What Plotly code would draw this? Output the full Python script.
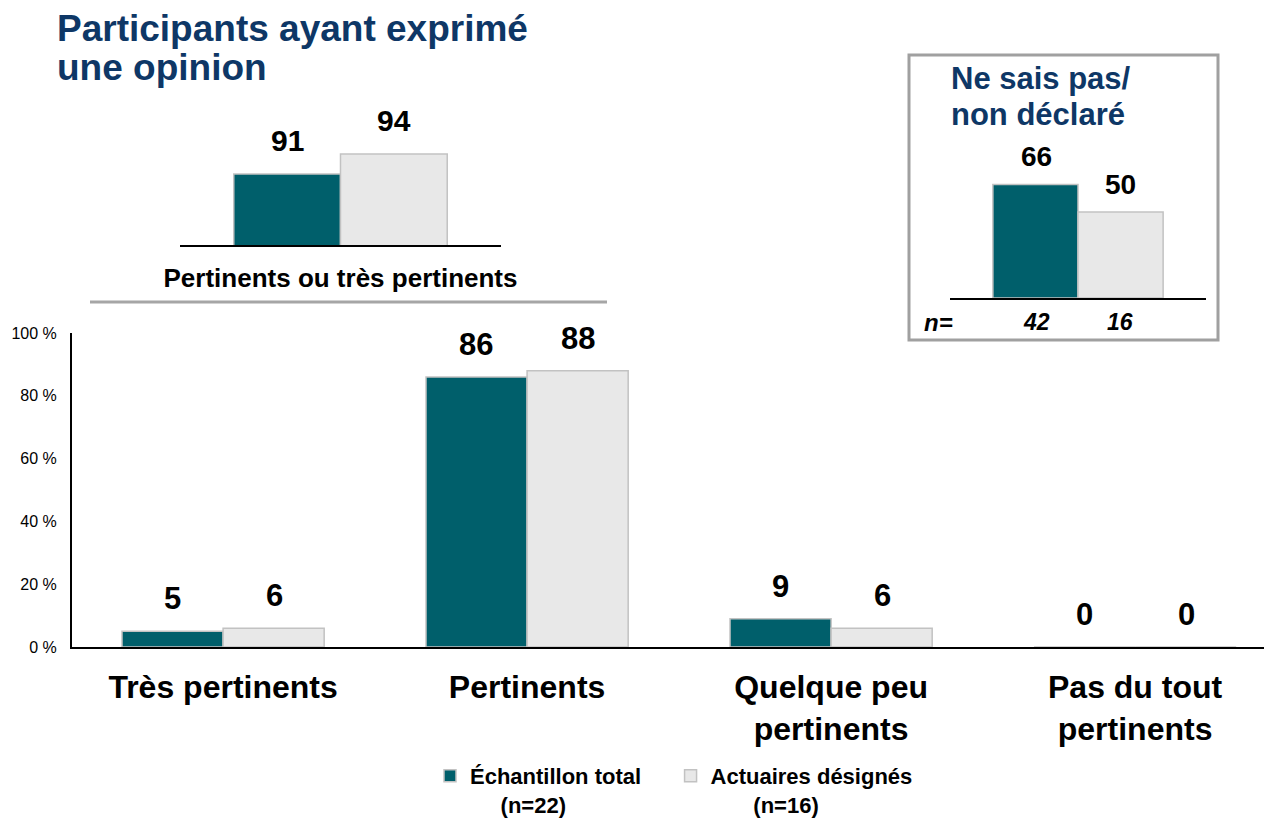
import plotly.graph_objects as go

# main chart data
categories = ["Très pertinents", "Pertinents", "Quelque peu<br>pertinents", "Pas du tout<br>pertinents"]
total_vals = [5, 86, 9, 0]
actuaires_vals = [6, 88, 6, 0]
y_ticks = [0, 20, 40, 60, 80, 100]

# inset: pertinents ou très pertinents
top_cat = ["Pertinents ou très pertinents"]
top_total = [91]
top_actuaires = [94]

# inset: ne sais pas / non déclaré
nsp_cat = ["nsp"]
nsp_total = [66]
nsp_actuaires = [50]
nsp_n = [42, 16]

NB = "\u00a0"
series_names = ["Échantillon total" + NB * 4 + "<br>" + NB * 5 + "(n=22)",
                "Actuaires désignés<br>" + NB * 7 + "(n=16)"]

TEAL = "#005F6B"
GRAY = "#E8E8E8"
EDGE = "#C2C2C2"
NAVY = "#0E3766"
FONT = "Arial, Liberation Sans, sans-serif"

# page is 1272x819, body has an 8px margin
W, H = 1256, 819
OFF = 8


def px_x(x):
    return (x - OFF) / W


def px_y(y):
    return 1 - (y - OFF) / H


fig = go.Figure()

# main bars
fig.add_trace(go.Bar(x=categories, y=total_vals, name=series_names[0],
                     marker=dict(color=TEAL, line=dict(color=EDGE, width=1.5)),
                     xaxis="x", yaxis="y"))
fig.add_trace(go.Bar(x=categories, y=actuaires_vals, name=series_names[1],
                     marker=dict(color=GRAY, line=dict(color=EDGE, width=1.5)),
                     xaxis="x", yaxis="y"))

# top-left inset
fig.add_trace(go.Bar(x=top_cat, y=top_total, showlegend=False,
                     marker=dict(color=TEAL, line=dict(color=EDGE, width=1.5)),
                     xaxis="x2", yaxis="y2"))
fig.add_trace(go.Bar(x=top_cat, y=top_actuaires, showlegend=False,
                     marker=dict(color=GRAY, line=dict(color=EDGE, width=1.5)),
                     xaxis="x2", yaxis="y2"))

# top-right inset
fig.add_trace(go.Bar(x=nsp_cat, y=nsp_total, showlegend=False,
                     marker=dict(color=TEAL, line=dict(color=EDGE, width=1.5)),
                     xaxis="x3", yaxis="y3"))
fig.add_trace(go.Bar(x=nsp_cat, y=nsp_actuaires, showlegend=False,
                     marker=dict(color=GRAY, line=dict(color=EDGE, width=1.5)),
                     xaxis="x3", yaxis="y3"))

annotations = []

# value labels main chart
for cat, a, b in zip(categories, total_vals, actuaires_vals):
    for v, shift in ((a, -51), (b, 51)):
        annotations.append(dict(x=cat, y=v, xref="x", yref="y", text=f"<b>{v}</b>",
                                showarrow=False, xshift=shift, yanchor="bottom", yshift=13,
                                font=dict(size=31, color="black", family=FONT)))

# value labels top-left inset
for cat, a, b in zip(top_cat, top_total, top_actuaires):
    for v, shift in ((a, -53), (b, 53)):
        annotations.append(dict(x=cat, y=v, xref="x2", yref="y2", text=f"<b>{v}</b>",
                                showarrow=False, xshift=shift, yanchor="bottom", yshift=15,
                                font=dict(size=30, color="black", family=FONT)))

# value labels top-right inset
for cat, a, b in zip(nsp_cat, nsp_total, nsp_actuaires):
    for v, shift in ((a, -42), (b, 42)):
        annotations.append(dict(x=cat, y=v, xref="x3", yref="y3", text=f"<b>{v}</b>",
                                showarrow=False, xshift=shift, yanchor="bottom", yshift=10,
                                font=dict(size=28, color="black", family=FONT)))
    for n, shift in zip(nsp_n, (-42, 42)):
        annotations.append(dict(x=cat, y=0, xref="x3", yref="y3", text=f"<b><i>{n}</i></b>",
                                showarrow=False, xshift=shift, yanchor="middle", yshift=-24,
                                font=dict(size=23, color="black", family=FONT)))

annotations.append(dict(x=px_x(922), y=px_y(322), xref="paper", yref="paper",
                        text="<b><i>n=</i></b>", showarrow=False, xanchor="left", yanchor="middle",
                        font=dict(size=24, color="black", family=FONT)))

for line, yc in (("Ne sais pas/", 78), ("non déclaré", 115)):
    annotations.append(dict(x=px_x(949), y=px_y(yc), xref="paper", yref="paper",
                            text=f"<b>{line}</b>", showarrow=False,
                            xanchor="left", yanchor="middle",
                            font=dict(size=31, color=NAVY, family=FONT)))

for line, yc in (("Participants ayant exprimé", 28), ("une opinion", 68)):
    annotations.append(dict(x=px_x(55), y=px_y(yc), xref="paper", yref="paper",
                            text=f"<b>{line}</b>", showarrow=False,
                            xanchor="left", yanchor="middle",
                            font=dict(size=37, color=NAVY, family=FONT)))

shapes = [
    dict(type="line", xref="paper", yref="paper", x0=px_x(90), x1=px_x(607),
         y0=px_y(302), y1=px_y(302), line=dict(color="#A6A6A6", width=3)),
    dict(type="rect", xref="paper", yref="paper", x0=px_x(909), x1=px_x(1218),
         y0=px_y(340), y1=px_y(55), line=dict(color="#A0A0A0", width=3)),
]

fig.update_layout(
    width=W, height=H,
    margin=dict(l=0, r=0, t=0, b=0, autoexpand=False),
    paper_bgcolor="white", plot_bgcolor="rgba(0,0,0,0)",
    barmode="group", bargap=0.335, bargroupgap=0,
    font=dict(family=FONT, color="black"),
    xaxis=dict(domain=[px_x(72), 1], range=[-0.497, 3.424], showgrid=False,
               showline=True, linecolor="black", linewidth=2, ticks="",
               tickfont=dict(size=32, color="black", family=FONT, weight="bold"),
               ticklabelstandoff=11, anchor="y", automargin=False),
    yaxis=dict(domain=[px_y(647), px_y(333)], range=[0, 100], showgrid=False,
               showline=True, linecolor="black", linewidth=2, ticks="",
               tickmode="array", tickvals=y_ticks, ticktext=[f"{v} %" for v in y_ticks],
               tickfont=dict(size=16, color="black", family=FONT),
               ticklabelstandoff=10, zeroline=False, anchor="x", automargin=False),
    xaxis2=dict(domain=[px_x(180), px_x(501)], range=[-0.5, 0.5], showgrid=False,
                showline=True, linecolor="black", linewidth=1.5, ticks="",
                tickfont=dict(size=26, color="black", family=FONT, weight="bold"),
                ticklabelstandoff=9, anchor="y2", automargin=False),
    yaxis2=dict(domain=[px_y(245), px_y(120)], range=[80.35, 80.35 + 125 / 6.667],
                visible=False, anchor="x2", automargin=False),
    xaxis3=dict(domain=[px_x(950), px_x(1206)], range=[-0.5, 0.5], showgrid=False,
                showline=True, linecolor="black", linewidth=1.5, ticks="",
                showticklabels=False, anchor="y3", automargin=False),
    yaxis3=dict(domain=[px_y(298), px_y(170)], range=[0, 128 / 1.72],
                visible=False, anchor="x3", automargin=False),
    legend=dict(orientation="h", x=px_x(430), y=px_y(755), xanchor="left", yanchor="top",
                valign="top",
                font=dict(size=22, color="black", family=FONT, weight="bold"),
                bgcolor="rgba(0,0,0,0)", traceorder="normal"),
    annotations=annotations,
    shapes=shapes,
)

fig.write_html("out.html")
